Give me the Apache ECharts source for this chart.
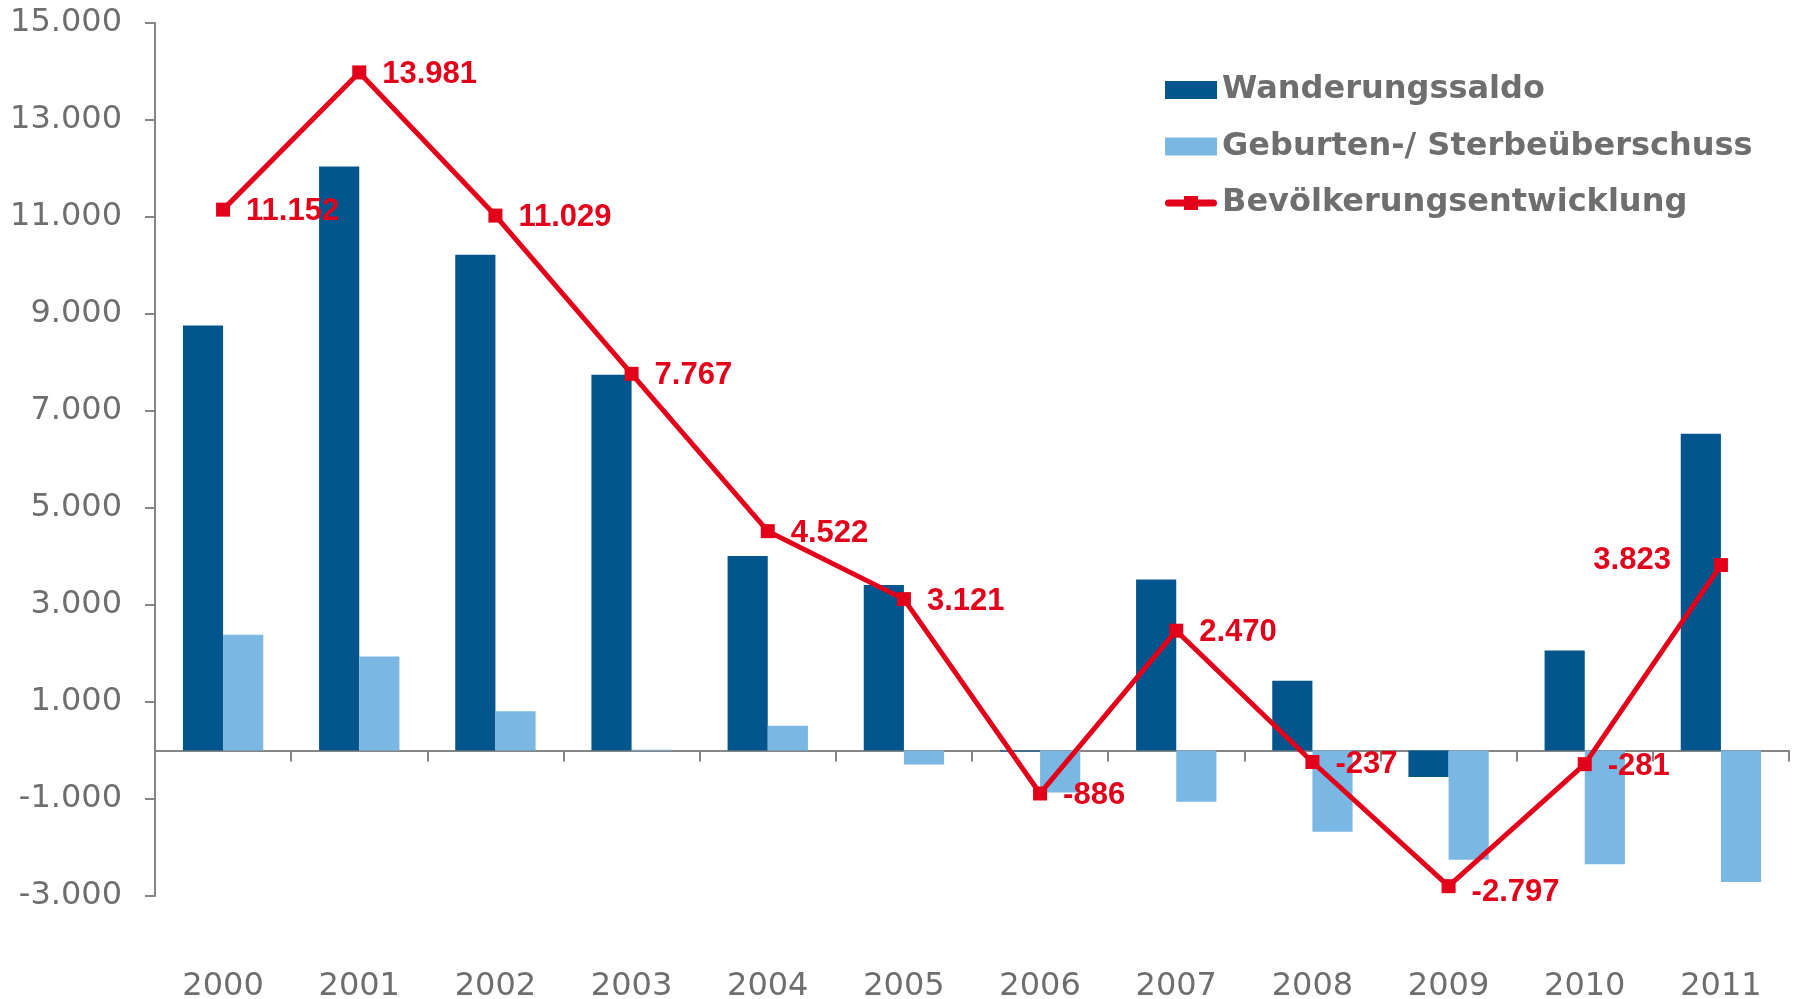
<!DOCTYPE html>
<html><head><meta charset="utf-8">
<script src="https://cdn.jsdelivr.net/npm/echarts@6/dist/echarts.min.js"></script>
<style>html,body{margin:0;padding:0;background:#fff}#c{width:1797px;height:999px}</style>
</head><body><div id="c"></div>
<script>
const years = ['2000','2001','2002','2003','2004','2005','2006','2007','2008','2009','2010','2011'];
const wanderungssaldo = [8763, 12041, 10220, 7750, 4010, 3410, -20, 3525, 1437, -545, 2062, 6533];
const geburtenSterbe = [2389, 1940, 809, 17, 512, -289, -866, -1055, -1674, -2252, -2343, -2710];
const bevoelkerung = [11152, 13981, 11029, 7767, 4522, 3121, -886, 2470, -237, -2797, -281, 3823];
const yTickValues = [-3000, -1000, 1000, 3000, 5000, 7000, 9000, 11000, 13000, 15000];
const seriesNames = ['Wanderungssaldo', 'Geburten-/ Sterbeüberschuss', 'Bevölkerungsentwicklung'];

const AXIS_FONT = 'DejaVu Sans, Verdana, sans-serif';
const LABEL_FONT = 'Liberation Sans, Arial, sans-serif';
const GRAY = '#6e6e6e';
const AXIS = '#858585';
const RED = '#e2001a';

// legend icon for the line series: thick rounded line with a square marker
const LINE_ICON = 'path://M26,0 L26.01,0 L26,0.01 Z M26,18 L26.01,18 L26,17.99 Z ' +
  'M3.5,5.5 L48.5,5.5 A3.5,3.5 0 0 1 48.5,12.5 L3.5,12.5 A3.5,3.5 0 0 1 3.5,5.5 Z ' +
  'M19,2 L33,2 L33,16 L19,16 Z';

function fmt(v) {
  const s = Math.abs(Math.round(v)).toString().replace(/\B(?=(\d{3})+(?!\d))/g, '.');
  return (v < 0 ? '-' : '') + s;
}

const lineData = bevoelkerung.map((v, i) => {
  if (i === 11) {
    return { value: v, label: { position: 'left', offset: [-27, -5] } };
  }
  if (i === 9) {
    return { value: v, label: { offset: [0, 6] } };
  }
  return v;
});

const chart = echarts.init(document.getElementById('c'), null, { renderer: 'canvas' });
chart.setOption({
  animation: false,
  backgroundColor: '#ffffff',
  textStyle: { fontFamily: AXIS_FONT },
  grid: { left: 155, right: 8, top: 23, bottom: 103, containLabel: false, outerBoundsMode: 'none' },
  legend: {
    orient: 'vertical',
    left: 1160,
    top: 67,
    itemWidth: 52,
    itemHeight: 18,
    itemGap: 20.5,
    data: [
      { name: seriesNames[0], icon: 'rect' },
      { name: seriesNames[1], icon: 'rect' },
      { name: seriesNames[2], icon: LINE_ICON }
    ],
    textStyle: { color: GRAY, fontSize: 32, fontWeight: 'bold', fontFamily: AXIS_FONT, lineHeight: 36 }
  },
  xAxis: [
    {
      type: 'category',
      data: years,
      position: 'bottom',
      axisLine: { show: true, onZero: true, lineStyle: { color: AXIS, width: 2 } },
      axisTick: { show: true, length: 11, lineStyle: { color: AXIS, width: 2 } },
      axisLabel: { show: false },
      splitLine: { show: false }
    },
    {
      type: 'category',
      data: years,
      position: 'bottom',
      axisLine: { show: false, onZero: false },
      axisTick: { show: false },
      axisLabel: { show: true, color: GRAY, fontSize: 32, fontFamily: AXIS_FONT, margin: 75 },
      splitLine: { show: false }
    }
  ],
  yAxis: {
    type: 'value',
    min: -3000,
    max: 15000,
    interval: 1000,
    axisLine: { show: true, lineStyle: { color: AXIS, width: 2 } },
    axisTick: { show: true, length: 10, customValues: yTickValues, lineStyle: { color: AXIS, width: 2 } },
    axisLabel: { color: GRAY, fontSize: 32, fontFamily: AXIS_FONT, margin: 33, customValues: yTickValues, formatter: v => fmt(v) },
    splitLine: { show: false }
  },
  series: [
    {
      name: seriesNames[0],
      type: 'bar',
      data: wanderungssaldo,
      itemStyle: { color: '#02568d' },
      barGap: '0%',
      barCategoryGap: '41%'
    },
    {
      name: seriesNames[1],
      type: 'bar',
      data: geburtenSterbe,
      itemStyle: { color: '#7ab7e3' },
      barGap: '0%',
      barCategoryGap: '41%'
    },
    {
      name: seriesNames[2],
      type: 'line',
      data: lineData,
      symbol: 'rect',
      symbolSize: 14,
      lineStyle: { color: RED, width: 5 },
      itemStyle: { color: RED },
      z: 5,
      label: {
        show: true,
        position: 'right',
        distance: 16,
        offset: [0, 2],
        color: RED,
        fontSize: 31,
        fontWeight: 'bold',
        fontFamily: LABEL_FONT,
        formatter: p => fmt(p.value)
      }
    }
  ]
});
</script>
</body></html>
